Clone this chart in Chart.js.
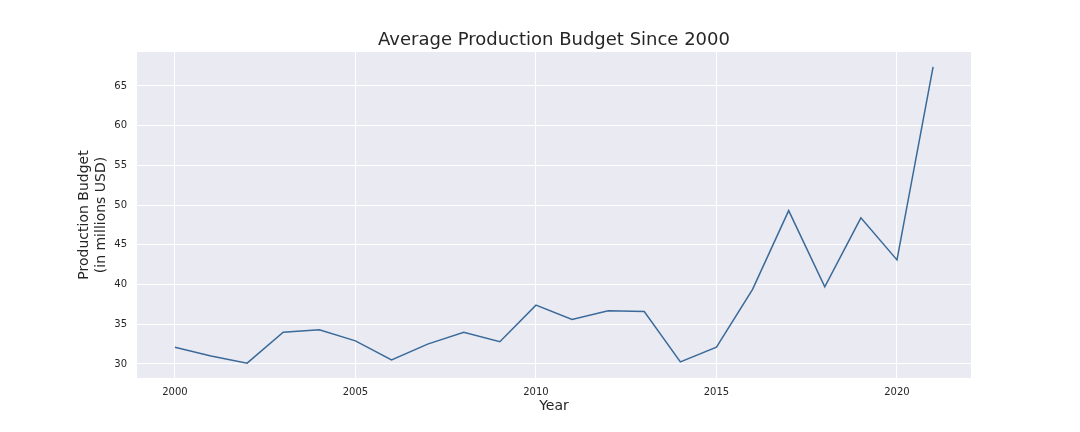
<!DOCTYPE html>
<html>
<head>
<meta charset="utf-8">
<script src="https://cdn.jsdelivr.net/npm/chart.js@4"></script>
<style>body{margin:0;background:#fff}</style>
</head>
<body>
<canvas id="chart" width="1080" height="432"></canvas>
<script>
const years = [2000, 2001, 2002, 2003, 2004, 2005, 2006, 2007, 2008, 2009, 2010,
  2011, 2012, 2013, 2014, 2015, 2016, 2017, 2018, 2019, 2020, 2021];
const budget = [32.1, 31.0, 30.1, 34.0, 34.3, 32.9, 30.5, 32.5, 34.0, 32.8, 37.4,
  35.6, 36.7, 36.6, 30.25, 32.1, 39.4, 49.3, 39.7, 48.4, 43.1, 67.4];
const xTicks = [2000, 2005, 2010, 2015, 2020];
const yTicks = [30, 35, 40, 45, 50, 55, 60, 65];

const bgPlugin = {
  id: "bg",
  beforeDraw(chart) {
    const { ctx, chartArea: a } = chart;
    ctx.save();
    ctx.fillStyle = "#eaeaf2";
    ctx.fillRect(a.left, a.top, a.right - a.left, a.bottom - a.top);
    ctx.fillStyle = "#262626";
    ctx.font = "18px 'DejaVu Sans', sans-serif";
    ctx.textAlign = "center";
    ctx.textBaseline = "middle";
    ctx.fillText("Average Production Budget Since 2000", (a.left + a.right) / 2, 40);
    ctx.restore();
  }
};

new Chart(document.getElementById("chart"), {
  type: "line",
  data: {
    datasets: [{
      data: years.map((y, i) => ({ x: y, y: budget[i] })),
      borderColor: "#3a6a99",
      borderWidth: 1.5,
      pointRadius: 0,
      tension: 0
    }]
  },
  options: {
    responsive: false,
    animation: false,
    devicePixelRatio: 1,
    layout: { padding: { top: 52, right: 109, left: 76, bottom: 17 } },
    plugins: { legend: { display: false }, tooltip: { enabled: false } },
    scales: {
      x: {
        type: "linear",
        min: 1998.95,
        max: 2022.05,
        afterBuildTicks(s) { s.ticks = xTicks.map(v => ({ value: v })); },
        afterFit(s) { s.height = 37; },
        grid: { color: "#ffffff", lineWidth: 1, drawTicks: false },
        border: { display: false },
        ticks: { color: "#262626", font: { size: 10, family: "DejaVu Sans" }, padding: 8, callback: v => String(v) },
        title: { display: true, text: "Year", color: "#262626", font: { size: 14, family: "DejaVu Sans" }, padding: 0 }
      },
      y: {
        min: 28.23,
        max: 69.27,
        afterBuildTicks(s) { s.ticks = yTicks.map(v => ({ value: v })); },
        afterFit(s) { s.width = 61; },
        grid: { color: "#ffffff", lineWidth: 1, drawTicks: false },
        border: { display: false },
        ticks: { color: "#262626", font: { size: 10, family: "DejaVu Sans" }, padding: 10 },
        title: { display: true, text: ["Production Budget", "(in millions USD)"], color: "#262626", font: { size: 14, family: "DejaVu Sans" }, padding: 0 }
      }
    }
  },
  plugins: [bgPlugin]
});
</script>
</body>
</html>
